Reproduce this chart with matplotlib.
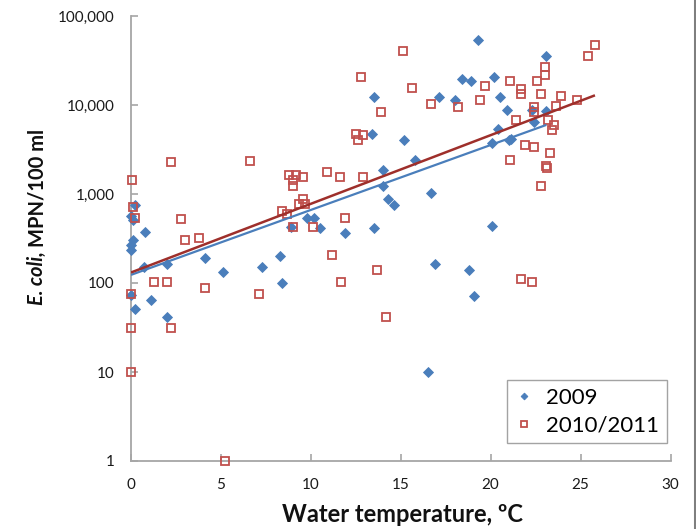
import numpy as np
import matplotlib
matplotlib.use("Agg")
import matplotlib.pyplot as plt
from matplotlib.lines import Line2D

# ---------------- data ----------------
temp_2009 = [0.0, 0.2, 0.1, 0.1, 0.0, 0.0, 0.8, 0.7, 0.0, 0.2, 1.1, 2.0, 2.0,
             4.1, 5.1, 7.3, 8.3, 8.4, 8.9, 9.8, 10.2, 10.5, 11.9, 13.4, 13.5,
             13.5, 14.0, 14.0, 14.3, 14.6, 15.2, 15.8, 16.5, 16.7, 16.9, 17.1,
             18.0, 18.4, 18.9, 18.8, 19.1, 19.3, 20.1, 20.1, 20.2, 20.4, 20.5,
             20.9, 21.0, 21.15, 22.3, 22.4, 23.1, 23.1]
ecoli_2009 = [570, 752, 510, 304, 267, 235, 377, 152, 73, 51, 64, 162, 41.5,
              191, 132, 152, 203, 101, 422, 533, 533, 412, 368, 4760, 12400,
              412, 1860, 1230, 872, 760, 4010, 2390, 10, 1035, 163, 12400,
              11400, 19800, 18400, 141, 71, 54000, 437, 3700, 20800, 5380, 12400,
              8900, 4000, 4130, 8790, 6450, 8600, 35500]

temp_1011 = [0.05, 0.1, 0.2, 0.0, 0.0, 0.0, 1.3, 2.0, 2.25, 2.25, 2.8, 3.0, 3.8,
             4.1, 5.25, 6.6, 7.1, 8.4, 8.65, 8.8, 9.15, 9.0, 9.0, 9.0, 9.55,
             9.55, 9.35, 9.7, 10.1, 10.9, 11.15, 11.6, 11.7, 11.9, 12.5, 12.6,
             12.9, 12.8, 12.9, 13.7, 13.9, 14.2, 15.1, 15.6, 16.7, 18.2, 19.4,
             19.7, 21.1, 21.1, 21.4, 21.7, 21.7, 21.7, 21.9, 22.3, 22.4, 22.4,
             22.4, 22.6, 22.8, 22.8, 23.0, 23.0, 23.1, 23.15, 23.2, 23.3, 23.4,
             23.5, 23.65, 23.9, 24.8, 25.4, 25.8]
ecoli_1011 = [1420, 720, 533, 76, 31, 10, 102, 102, 31.6, 2270, 524, 304, 323,
              87, 1, 2370, 76, 640, 590, 1640, 1640, 1440, 1230, 422, 1540,
              870, 766, 766, 422, 1760, 205, 1540, 102, 533, 4680, 4070,
              4600, 20700, 1540, 141, 8410, 41.5, 40700, 15500, 10250, 9600, 11400,
              16500, 18600, 2400, 6780, 15000, 13300, 111, 3520, 102, 9420, 8410,
              3360, 18600, 13400, 1230, 27000, 21500, 2060, 1940, 6780, 2900, 5200,
              5900, 9800, 12600, 11500, 35800, 47600]

series_names = ["2009", "2010/2011"]
x_ticks = [0, 5, 10, 15, 20, 25, 30]
y_ticks = [1, 10, 100, 1000, 10000, 100000]
y_tick_labels = ["1", "10", "100", "1,000", "10,000", "100,000"]

# ---------------- style ----------------
BLUE = "#4A7EBB"
RED = "#C0504D"
BLUE_LINE = "#4A7EBB"
RED_LINE = "#9E2F2B"
AXIS_GRAY = "#A6A6A6"
FONT = "Lato"

W, H = 696, 529
fig = plt.figure(figsize=(W / 100, H / 100), dpi=100)
fig.patch.set_facecolor("white")

ax_l, ax_r, ax_t, ax_b = 131, 670.5, 16, 461
ax = fig.add_axes([ax_l / W, 1 - ax_b / H, (ax_r - ax_l) / W, (ax_b - ax_t) / H])

ax.set_xlim(0, 30)
ax.set_yscale("log")
ax.set_ylim(1, 100000)

# scatter points
ax.plot(temp_2009, ecoli_2009, linestyle="none", marker="D", markersize=4.6,
        markerfacecolor=BLUE, markeredgecolor=BLUE, markeredgewidth=0.6,
        clip_on=False, zorder=3, label=series_names[0])
ax.plot(temp_1011, ecoli_1011, linestyle="none", marker="s", markersize=5.2,
        markerfacecolor="none", markeredgecolor=RED, markeredgewidth=1.3,
        clip_on=False, zorder=4, label=series_names[1])

# exponential trend lines (least squares on log10 values, like Excel)
for xs, ys, col, lw in [(temp_2009, ecoli_2009, BLUE_LINE, 1.6),
                        (temp_1011, ecoli_1011, RED_LINE, 1.8)]:
    xs = np.asarray(xs, float)
    ly = np.log10(np.asarray(ys, float))
    b, a = np.polyfit(xs, ly, 1)
    xx = np.array([xs.min(), xs.max()])
    ax.plot(xx, 10 ** (a + b * xx), color=col, linewidth=lw, zorder=5,
            solid_capstyle="butt")

# axes styling
for s in ["top", "right"]:
    ax.spines[s].set_visible(False)
for s in ["left", "bottom"]:
    ax.spines[s].set_color(AXIS_GRAY)
    ax.spines[s].set_linewidth(1.3)

ax.set_xticks(x_ticks)
ax.set_xticklabels([str(t) for t in x_ticks])
ax.set_yticks(y_ticks)
ax.set_yticklabels(y_tick_labels)
ax.yaxis.set_minor_locator(matplotlib.ticker.NullLocator())
ax.tick_params(axis="both", direction="in", length=5, width=1.2,
               color=AXIS_GRAY, labelsize=11, labelcolor="#1a1a1a", pad=12)
for lab in ax.get_xticklabels() + ax.get_yticklabels():
    lab.set_fontfamily(FONT)

# axis titles
fig.text(402 / W, 1 - 514 / H, "Water temperature, ºC", ha="center", va="center",
         fontsize=17, fontweight="bold", family=FONT, color="#111111")

fig.canvas.draw()
r = fig.canvas.get_renderer()
YT_X = 37
YT_SIZE = 14.5
t1 = fig.text(YT_X / W, 1 - 305 / H, "E. coli,", rotation=90, ha="center", va="bottom",
              fontsize=YT_SIZE, fontweight="bold", fontstyle="italic", family=FONT,
              color="#111111")
bb = t1.get_window_extent(r)
t2 = fig.text(YT_X / W, (bb.y1 + 4) / H, "MPN/100 ml", rotation=90, ha="center",
              va="bottom", fontsize=YT_SIZE, fontweight="bold", family=FONT,
              color="#111111")

# legend
leg = ax.legend(loc="upper right", bbox_to_anchor=(667 / W, 1 - 380 / H),
                bbox_transform=fig.transFigure, frameon=True, fancybox=False,
                prop={"family": FONT, "size": 16}, handlelength=0.8,
                handletextpad=0.6, borderpad=0.35, labelspacing=0.35,
                borderaxespad=0, markerscale=0.75)
leg.get_frame().set_edgecolor("#8C8C8C")
leg.get_frame().set_linewidth(1.0)

# right-edge frame strip of the original screenshot
fig.add_artist(Line2D([694.5 / W, 694.5 / W], [0, 1], color="#7F7F7F", linewidth=2.2,
                      transform=fig.transFigure))

fig.savefig("out.png", dpi=100, facecolor="white")
